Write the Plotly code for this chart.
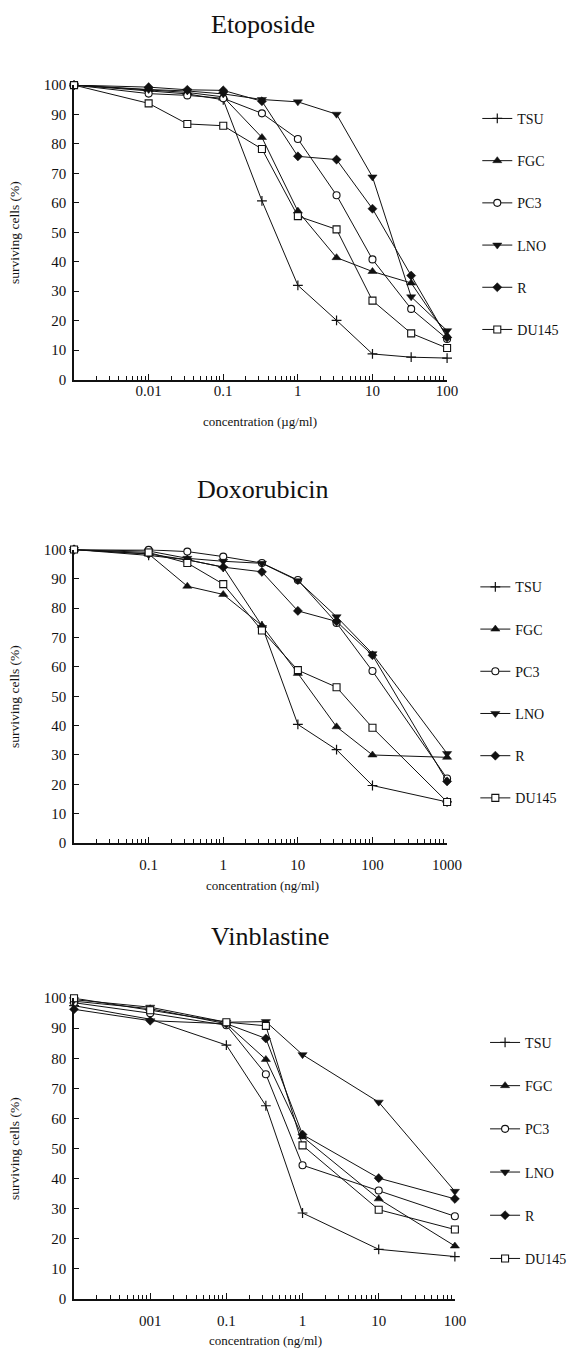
import plotly.graph_objects as go

W, H = 578, 1357
FONT = "Liberation Serif"

series_names = ["TSU", "FGC", "PC3", "LNO", "R", "DU145"]

# ---------------- Etoposide (µg/ml) ----------------
eto_conc = [0.001, 0.01, 0.033, 0.1, 0.33, 1, 3.3, 10, 33, 100]
eto_tsu = [100, 98.0, 97.0, 95.0, 60.7, 32.0, 20.1, 8.7, 7.6, 7.3]
eto_fgc = [100, 98.5, 97.5, 96.0, 82.2, 57.2, 41.4, 36.7, 32.8, 14.9]
eto_pc3 = [100, 97.1, 96.5, 95.5, 90.4, 81.7, 62.6, 40.8, 24.0, 13.8]
eto_lno = [100, 98.5, 98.0, 97.0, 95.1, 94.3, 90.1, 68.8, 28.1, 16.6]
eto_r = [100, 99.3, 98.4, 98.2, 94.5, 75.8, 74.7, 58.0, 35.3, 14.3]
eto_du145 = [100, 93.8, 86.8, 86.2, 78.3, 55.5, 51.0, 26.8, 15.7, 10.7]

# ---------------- Doxorubicin (ng/ml) ----------------
dox_conc = [0.01, 0.1, 0.33, 1, 3.3, 10, 33, 100, 1000]
dox_tsu = [100, 98.0, 96.5, 94.0, 74.0, 40.4, 31.8, 19.6, 14.0]
dox_fgc = [100, 98.5, 87.5, 84.7, 74.1, 57.8, 39.6, 30.0, 29.2]
dox_pc3 = [100, 99.9, 99.3, 97.6, 95.4, 89.6, 75.0, 58.6, 22.0]
dox_lno = [100, 99.5, 97.0, 96.0, 95.3, 89.4, 77.1, 64.5, 30.5]
dox_r = [100, 98.5, 96.5, 94.0, 92.4, 79.1, 75.5, 64.0, 21.0]
dox_du145 = [100, 99.0, 95.4, 88.2, 72.4, 58.9, 53.1, 39.3, 14.0]

# ---------------- Vinblastine (ng/ml) ----------------
vin_conc = [0.001, 0.01, 0.1, 0.33, 1, 10, 100]
vin_tsu = [97.5, 93.0, 84.4, 64.2, 28.5, 16.4, 14.0]
vin_fgc = [99.0, 96.5, 91.5, 79.6, 53.9, 33.2, 17.5]
vin_pc3 = [98.5, 95.0, 91.0, 74.7, 44.4, 36.0, 27.4]
vin_lno = [99.5, 97.0, 92.0, 92.2, 81.2, 65.4, 35.7]
vin_r = [96.3, 92.5, 91.5, 86.6, 54.6, 40.1, 33.2]
vin_du145 = [100, 96.0, 92.0, 90.8, 51.0, 29.6, 23.0]

# tick labels
eto_tickvals = [0.01, 0.1, 1, 10, 100]
eto_ticktext = ["0.01", "0.1", "1", "10", "100"]
dox_tickvals = [0.1, 1, 10, 100, 1000]
dox_ticktext = ["0.1", "1", "10", "100", "1000"]
vin_tickvals = [0.01, 0.1, 1, 10, 100]
vin_ticktext = ["001", "0.1", "1", "10", "100"]
y_tickvals = [0, 10, 20, 30, 40, 50, 60, 70, 80, 90, 100]

panel_titles = ["Etoposide", "Doxorubicin", "Vinblastine"]
x_titles = ["concentration (µg/ml)", "concentration (ng/ml)", "concentration (ng/ml)"]
y_title = "surviving cells (%)"

# marker styles per series
styles = {
    "TSU": dict(symbol="cross-thin", size=7, color="#111", line=dict(color="#111", width=1.2)),
    "FGC": dict(symbol="triangle-up", size=8, color="#111", line=dict(color="#111", width=0.5)),
    "PC3": dict(symbol="circle", size=7, color="white", line=dict(color="#111", width=1.1)),
    "LNO": dict(symbol="triangle-down", size=8, color="#111", line=dict(color="#111", width=0.5)),
    "R": dict(symbol="diamond", size=7, color="#111", line=dict(color="#111", width=0.5)),
    "DU145": dict(symbol="square", size=7, color="white", line=dict(color="#111", width=1.1)),
}

panels = [
    dict(conc=eto_conc, data=[eto_tsu, eto_fgc, eto_pc3, eto_lno, eto_r, eto_du145],
         xr=[-3, 2], px=(76, 459), py=(78, 376), tv=eto_tickvals, tt=eto_ticktext,
         title_y=17, title_x=270, xt_y=418, xt_x=267, standoff=-3,
         leg_top=96, leg_x=490, gap=21),
    dict(conc=dox_conc, data=[dox_tsu, dox_fgc, dox_pc3, dox_lno, dox_r, dox_du145],
         xr=[-2, 3], px=(76, 459), py=(548, 845), tv=dox_tickvals, tt=dox_ticktext,
         title_y=487, title_x=270, xt_y=888, xt_x=269, standoff=7,
         leg_top=570, leg_x=488, gap=21),
    dict(conc=vin_conc, data=[vin_tsu, vin_fgc, vin_pc3, vin_lno, vin_r, vin_du145],
         xr=[-3, 2], px=(76, 467), py=(1002, 1306), tv=vin_tickvals, tt=vin_ticktext,
         title_y=940, title_x=277, xt_y=1348, xt_x=273, standoff=8,
         leg_top=1031, leg_x=498, gap=22),
]

fig = go.Figure()
layout = dict(
    width=W, height=H, margin=dict(l=0, r=0, t=0, b=0),
    paper_bgcolor="white", plot_bgcolor="white", showlegend=True,
    font=dict(family=FONT, color="#111"),
)
annotations = []

def minor_vals(lo, hi):
    vals = []
    for e in range(lo, hi):
        for m in range(2, 10):
            vals.append(m * 10 ** e)
    return vals

for i, p in enumerate(panels):
    k = "" if i == 0 else str(i + 1)
    xa, ya = "x" + k, "y" + k
    leg = "legend" + k
    for j, (name, vals) in enumerate(zip(series_names, p["data"])):
        st = styles[name]
        fig.add_trace(go.Scatter(
            x=p["conc"], y=vals, name=name, mode="lines+markers",
            xaxis=xa, yaxis=ya, legend=leg, legendgroup=f"{i}-{name}",
            line=dict(color="#111", width=1),
            marker=dict(symbol=st["symbol"], size=st["size"], color=st["color"], line=st["line"]),
            cliponaxis=False,
        ))
    x0, x1 = p["px"]
    ytop, ybot = p["py"]
    layout["xaxis" + k] = dict(
        type="log", range=p["xr"], domain=[x0 / W, x1 / W], anchor=ya,
        tickmode="array", tickvals=p["tv"], ticktext=p["tt"],
        ticks="inside", ticklen=6, tickwidth=1, tickcolor="#111",
        showline=True, linecolor="#111", linewidth=1.5, showgrid=False, zeroline=False,
        tickfont=dict(family=FONT, size=15, color="#111"), ticklabelstandoff=p["standoff"],
        minor=dict(tickmode="array", tickvals=minor_vals(p["xr"][0], p["xr"][1]),
                   ticks="inside", ticklen=4, tickwidth=1, tickcolor="#111", showgrid=False),
    )
    layout["yaxis" + k] = dict(
        range=[0, 100], domain=[1 - ybot / H, 1 - ytop / H], anchor=xa,
        tickmode="array", tickvals=y_tickvals,
        ticks="inside", ticklen=5, tickwidth=1, tickcolor="#111",
        showline=True, linecolor="#111", linewidth=1.5, showgrid=False, zeroline=False,
        tickfont=dict(family=FONT, size=15, color="#111"), ticklabelstandoff=3,
    )
    layout[leg] = dict(
        x=p["leg_x"] / W, xanchor="left", y=1 - p["leg_top"] / H, yanchor="top",
        font=dict(family=FONT, size=14, color="#111"), tracegroupgap=p["gap"],
        bgcolor="rgba(0,0,0,0)", borderwidth=0, itemwidth=30,
    )
    annotations.append(dict(
        text=panel_titles[i], x=p["title_x"] / W, y=1 - p["title_y"] / H,
        xref="paper", yref="paper", showarrow=False, xanchor="center", yanchor="middle",
        font=dict(family=FONT, size=26, color="#111"),
    ))
    annotations.append(dict(
        text=x_titles[i], x=p["xt_x"] / W, y=1 - p["xt_y"] / H,
        xref="paper", yref="paper", showarrow=False, xanchor="center", yanchor="middle",
        font=dict(family=FONT, size=13, color="#111"),
    ))
    annotations.append(dict(
        text=y_title, x=15 / W, y=1 - ((ytop + ybot) / 2) / H, textangle=-90,
        xref="paper", yref="paper", showarrow=False, xanchor="center", yanchor="middle",
        font=dict(family=FONT, size=13.5, color="#111"),
    ))

layout["annotations"] = annotations
fig.update_layout(**layout)
fig.write_html("out.html")
